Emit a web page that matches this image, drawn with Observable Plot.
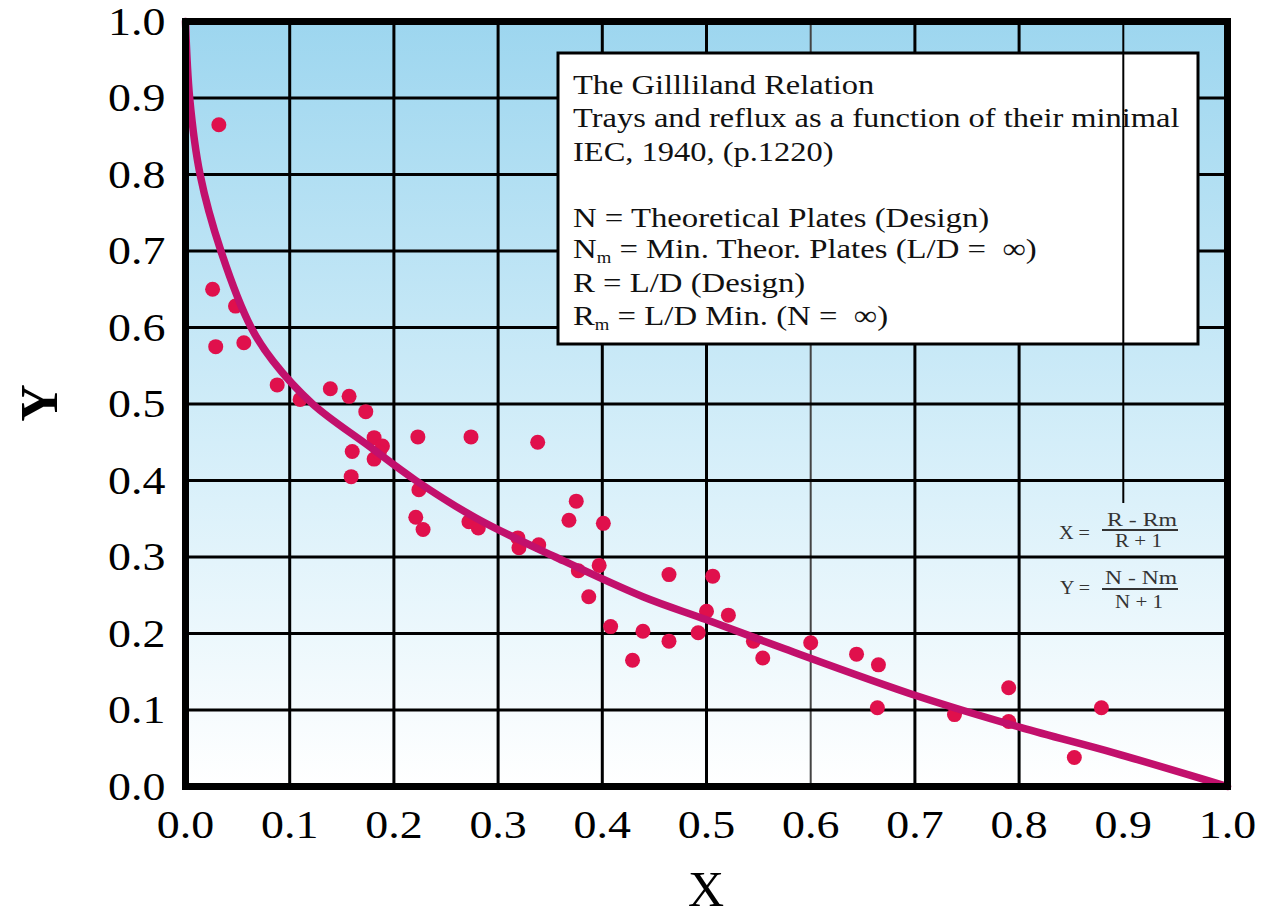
<!DOCTYPE html>
<html><head><meta charset="utf-8">
<script src="https://cdn.jsdelivr.net/npm/d3@7"></script>
<script src="https://cdn.jsdelivr.net/npm/@observablehq/plot@0.6"></script>
<style>
html,body{margin:0;padding:0;background:#fff;}
#chart{width:1281px;height:919px;}
</style></head><body><div id="chart"></div>
<script>
// ---- data ----
const xTicks = [0.0,0.1,0.2,0.3,0.4,0.5,0.6,0.7,0.8,0.9,1.0];
const yTicks = [0.0,0.1,0.2,0.3,0.4,0.5,0.6,0.7,0.8,0.9,1.0];
const pointX = [0.032,0.026,0.048,0.029,0.056,0.088,0.110,0.139,0.157,0.173,0.181,0.189,0.160,0.181,0.186,0.159,0.223,0.274,0.338,0.224,0.221,0.228,0.272,0.281,0.319,0.320,0.339,0.375,0.368,0.401,0.377,0.397,0.387,0.408,0.439,0.429,0.464,0.464,0.506,0.500,0.492,0.521,0.545,0.554,0.600,0.644,0.665,0.664,0.738,0.790,0.790,0.879,0.853];
const pointY = [0.865,0.650,0.628,0.575,0.580,0.525,0.506,0.520,0.510,0.490,0.456,0.445,0.438,0.428,0.437,0.405,0.457,0.457,0.450,0.388,0.352,0.336,0.346,0.338,0.325,0.312,0.316,0.373,0.348,0.344,0.282,0.289,0.248,0.209,0.203,0.165,0.190,0.277,0.275,0.229,0.201,0.224,0.190,0.168,0.188,0.173,0.159,0.103,0.094,0.129,0.085,0.103,0.038];
const curveX = [0,0.004,0.014,0.034,0.063,0.084,0.122,0.176,0.221,0.280,0.355,0.439,0.500,0.571,0.703,0.802,0.891,1.0];
const curveY = [1.0,0.900,0.800,0.700,0.600,0.556,0.500,0.445,0.400,0.350,0.300,0.248,0.218,0.182,0.118,0.077,0.044,0.0];
const noteTitleLines = ["The Gillliland Relation","Trays and reflux as a function of their minimal","IEC, 1940, (p.1220)"];
const xTitle = "X", yTitle = "Y";
const partialGridX = 0.9, partialGridXBottom = 0.37;

const points = pointX.map((x,i)=>({x, y: pointY[i]}));
const curve = curveX.map((x,i)=>({x, y: curveY[i]}));
const fmt = d3.format(".1f");
const NS = "http://www.w3.org/2000/svg";
const SERIF = "'Liberation Serif','Times New Roman',serif";
function el(tag, attrs, text){const e=document.createElementNS(NS,tag);for(const k in attrs)e.setAttribute(k,attrs[k]);if(text!=null)e.textContent=text;return e;}

function noteBox(){
  const g = el("g",{"font-family":SERIF,fill:"#111","text-anchor":"start"});
  g.appendChild(el("rect",{x:558,y:53,width:640,height:291,fill:"#fff",stroke:"#000","stroke-width":3}));
  const base=[94,127,161];
  noteTitleLines.forEach((t,i)=>g.appendChild(el("text",{transform:`translate(573,${base[i]}) scale(1.16,1)`,"font-size":28},t)));
  const mk=(y, main, sub, rest)=>{
    const t=el("text",{transform:`translate(573,${y}) scale(1.17,1)`,"font-size":28});
    t.appendChild(el("tspan",{},main));
    if(sub){t.appendChild(el("tspan",{dy:5,"font-size":16},sub));t.appendChild(el("tspan",{dy:-5},rest));}
    g.appendChild(t);
  };
  mk(227,"N = Theoretical Plates (Design)");
  mk(258,"N","m"," = Min. Theor. Plates (L/D =  \u221E)");
  mk(292,"R = L/D (Design)");
  mk(325,"R","m"," = L/D Min. (N =  \u221E)");
  return g;
}
function equations(){
  const g = el("g",{"font-family":SERIF,fill:"#333","font-size":18,"text-anchor":"start"});
  const add=(x,y,txt,len)=>g.appendChild(el("text",{x,y,textLength:len,lengthAdjust:"spacingAndGlyphs"},txt));
  add(1059,539,"X =",31); add(1107,526,"R - Rm",70); add(1115,547,"R + 1",47);
  g.appendChild(el("line",{x1:1102,x2:1178,y1:530,y2:530,stroke:"#333","stroke-width":2}));
  add(1060,594,"Y =",30); add(1105,584,"N - Nm",72); add(1115,608,"N + 1",48);
  g.appendChild(el("line",{x1:1102,x2:1178,y1:589,y2:589,stroke:"#333","stroke-width":2}));
  return g;
}

const plot = Plot.plot({
  width:1281, height:919,
  marginLeft:185, marginRight:54, marginTop:21, marginBottom:133,
  style:{fontFamily:SERIF, fontSize:"41px", color:"#000", background:"#fff", overflow:"visible"},
  x:{domain:[0,1], ticks:xTicks, tickFormat:fmt, tickSize:0, tickPadding:22, label:null},
  y:{domain:[0,1], ticks:yTicks, tickFormat:fmt, tickSize:0, tickPadding:20, label:null},
  marks:[
    Plot.frame({fill:"url(#bgGrad)"}),
    Plot.ruleX(xTicks.filter(v=>v>0 && v<1 && v!==0.6 && v!==partialGridX), {stroke:"#000", strokeWidth:3}),
    Plot.ruleX([0.6], {stroke:"#444", strokeWidth:2}),
    Plot.ruleY(yTicks.filter(v=>v>0 && v<1), {stroke:"#000", strokeWidth:3}),
    noteBox,
    Plot.ruleX([partialGridX], {y1:partialGridXBottom, y2:1, stroke:"#000", strokeWidth:2}),
    Plot.dot(points, {x:"x", y:"y", r:7.5, fill:"#e0104c", stroke:"none"}),
    Plot.line(curve, {x:"x", y:"y", stroke:"#c2106c", strokeWidth:7.5, curve:"catmull-rom"}),
    equations,
    Plot.frame({stroke:"#000", strokeWidth:7})
  ]
});

const svg = d3.select(plot);
const defs = svg.insert("defs", ":first-child");
const grad = defs.append("linearGradient").attr("id","bgGrad").attr("x1",0).attr("y1",0).attr("x2",0).attr("y2",1);
grad.append("stop").attr("offset","0%").attr("stop-color","#9dd6ef");
grad.append("stop").attr("offset","55%").attr("stop-color","#d4eef9");
grad.append("stop").attr("offset","100%").attr("stop-color","#ffffff");

// stretch tick labels horizontally like the reference
svg.selectAll('g[aria-label^="x-axis"] text, g[aria-label^="y-axis"] text').each(function(){
  const t = this.getAttribute("transform") || "";
  this.setAttribute("transform", t + " scale(1.12,1)");
});
// axis titles
svg.append("text").attr("x",706).attr("y",906).attr("text-anchor","middle")
  .attr("font-family",SERIF).attr("font-size",50).attr("fill","#000").text(xTitle);
svg.append("text").attr("transform","translate(57,403) rotate(-90)").attr("text-anchor","middle")
  .attr("font-family",SERIF).attr("font-weight","bold").attr("font-size",52).attr("fill","#000").text(yTitle);

document.getElementById("chart").appendChild(plot);
</script></body></html>
